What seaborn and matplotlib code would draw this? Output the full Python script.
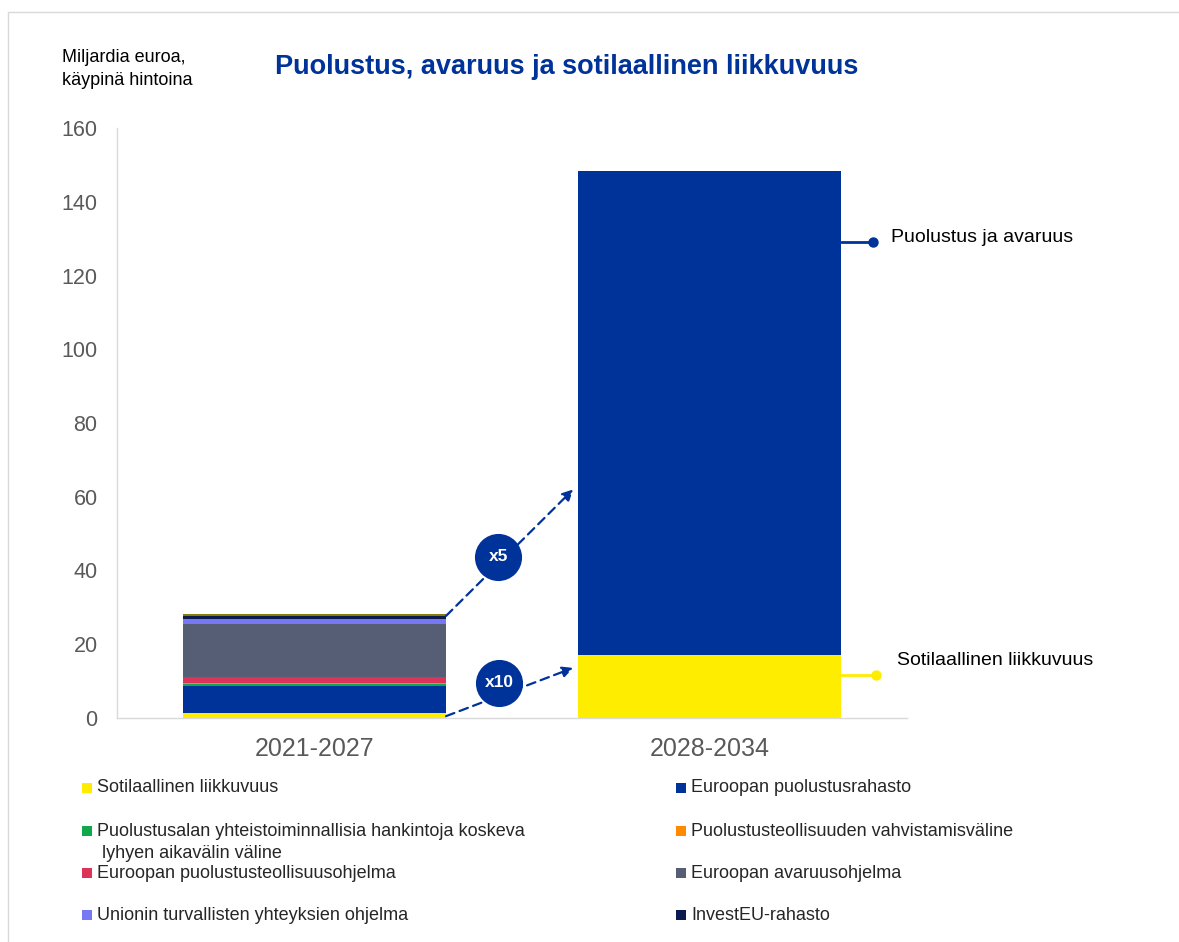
import matplotlib
matplotlib.use("Agg")
import matplotlib.pyplot as plt
from matplotlib.patches import Rectangle
import pandas as pd
import seaborn as sns

# data (billion euro, current prices)
periods = ["2021-2027", "2028-2034"]
series = [
    "Sotilaallinen liikkuvuus",
    "Euroopan puolustusrahasto",
    "Puolustusalan yhteistoiminnallisia hankintoja koskeva lyhyen aikavälin väline",
    "Puolustusteollisuuden vahvistamisväline",
    "Euroopan puolustusteollisuusohjelma",
    "Euroopan avaruusohjelma",
    "Unionin turvallisten yhteyksien ohjelma",
    "InvestEU-rahasto",
    "Muu",
    "Puolustus ja avaruus",
]
values_2021 = [1.45, 7.2, 0.45, 0.27, 1.7, 14.3, 1.36, 0.9, 0.45, 0.0]
values_2028 = [17.1, 0.0, 0.0, 0.0, 0.0, 0.0, 0.0, 0.0, 0.0, 131.2]
colors = ["#FFED00", "#003399", "#10A84A", "#FF8A00", "#DB3359",
          "#565E75", "#7878F5", "#0B1A4F", "#877C05", "#003399"]

legend_left = [0, 2, 4, 6]
legend_right = [1, 3, 5, 7]

blue = "#003399"
grey_txt = "#595959"
axis_col = "#d9d9d9"

sns.set_style("white")
plt.rcParams["font.family"] = ["Liberation Sans", "DejaVu Sans"]

df = pd.DataFrame({
    "period": [p for p in periods for _ in series],
    "series": series * len(periods),
    "value": values_2021 + values_2028,
})
df["cum"] = df.groupby("period")["value"].cumsum()

W, H = 1179, 942
fig = plt.figure(figsize=(W / 100, H / 100), dpi=100)
ax = fig.add_axes([117 / W, 1 - 718 / H, 790 / W, 590 / H])

bar_w = 0.666
for s, c in reversed(list(zip(series, colors))):
    sub = df[df["series"] == s]
    sns.barplot(data=sub, x="period", y="cum", order=periods, color=c,
                saturation=1, width=bar_w, linewidth=0, ax=ax)

ax.set_xlim(-0.5, 1.5)
ax.set_ylim(0, 160)
ax.set_yticks(range(0, 161, 20))
ax.set_xlabel("")
ax.set_ylabel("")
for side in ["top", "right"]:
    ax.spines[side].set_visible(False)
for side in ["left", "bottom"]:
    ax.spines[side].set_color(axis_col)
    ax.spines[side].set_linewidth(1)
ax.tick_params(axis="y", direction="in", length=7, color=axis_col,
               labelsize=15.5, labelcolor=grey_txt, pad=14)
ax.tick_params(axis="x", which="major", length=0, labelsize=18,
               labelcolor=grey_txt, pad=14)
ax.set_xticks([0.5, 1.5], minor=True)
ax.tick_params(axis="x", which="minor", direction="in", length=8, color=axis_col)

# growth arrows with circled factors
tot1 = sum(values_2021)
edge1 = bar_w / 2
arrow = dict(arrowstyle="-|>", linestyle=(0, (4, 2.5)), color=blue, lw=1.6,
             mutation_scale=16, shrinkA=0, shrinkB=0)
ax.annotate("", xy=(0.655, 62.0), xytext=(edge1, tot1 - 0.4), arrowprops=arrow)
ax.annotate("", xy=(0.655, 13.6), xytext=(edge1, 0.5), arrowprops=arrow)
for (cx, cy, lab) in [(0.465, 43.7, "x5"), (0.467, 9.6, "x10")]:
    ax.scatter([cx], [cy], s=1150, color=blue, zorder=5, linewidths=0)
    ax.text(cx, cy, lab, ha="center", va="center", color="white",
            fontsize=12.5, fontweight="bold", zorder=6)

# right side labels
edge2 = 1 + bar_w / 2
ax.plot([edge2, 1.413], [129.2, 129.2], color=blue, lw=2, clip_on=False)
ax.plot([1.413], [129.2], "o", color=blue, ms=6.5, clip_on=False)
ax.text(1.459, 130.4, "Puolustus ja avaruus", fontsize=14, va="center",
        color="black", clip_on=False)
ax.plot([edge2, 1.421], [11.66, 11.66], color="#FFED00", lw=2, clip_on=False)
ax.plot([1.421], [11.66], "o", color="#FFED00", ms=6.5, clip_on=False)
ax.text(1.475, 15.7, "Sotilaallinen liikkuvuus", fontsize=14, va="center",
        color="black", clip_on=False)

# titles
fig.text(567 / W, 1 - 67 / H, "Puolustus, avaruus ja sotilaallinen liikkuvuus",
         ha="center", va="center", fontsize=19.5, fontweight="bold", color=blue)
fig.text(62 / W, 1 - 69 / H, "Miljardia euroa,\nkäypinä hintoina", ha="left",
         va="center", fontsize=13, color="black", linespacing=1.4)

# legend, two columns
rows_y = [788, 831, 873, 915]
def legend_item(px, py, idx):
    fig.add_artist(Rectangle(((px) / W, 1 - (py + 5) / H), 10 / W, 10 / H,
                             transform=fig.transFigure, color=colors[idx], lw=0))
    lab = series[idx]
    if idx == 2:
        fig.text((px + 15) / W, 1 - py / H,
                 "Puolustusalan yhteistoiminnallisia hankintoja koskeva",
                 va="center", fontsize=13)
        fig.text((px + 20) / W, 1 - (py + 22) / H, "lyhyen aikavälin väline",
                 va="center", fontsize=13)
    else:
        fig.text((px + 15) / W, 1 - py / H, lab, va="center", fontsize=13)

for r, i in zip(rows_y, legend_left):
    legend_item(82, r, i)
for r, i in zip(rows_y, legend_right):
    legend_item(676, r, i)

# thin frame round the figure (top and left edges only visible)
fig.add_artist(Rectangle((8 / W, -0.01), 1.0, 1.01 - 12 / H,
                         transform=fig.transFigure, fill=False,
                         edgecolor="#d9d9d9", lw=1))

fig.savefig("out.png", dpi=100)
